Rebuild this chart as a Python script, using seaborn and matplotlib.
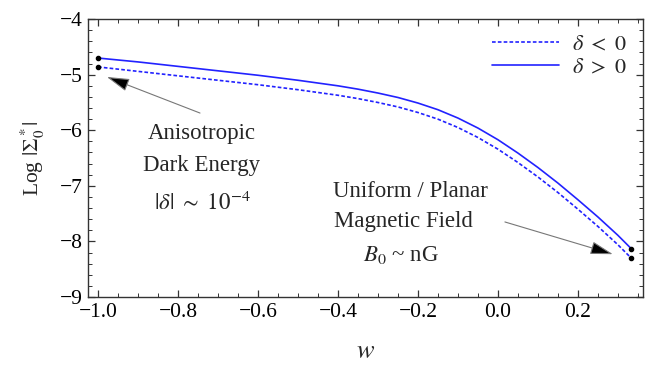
import matplotlib
matplotlib.use("Agg")
import matplotlib.pyplot as plt
import pandas as pd
import seaborn as sns
from matplotlib.lines import Line2D
from matplotlib.ticker import MultipleLocator

# values
w_vals = [-1.0, -0.95, -0.9, -0.85, -0.8, -0.75, -0.7, -0.65, -0.6, -0.55, -0.5, -0.45, -0.4, -0.35,
          -0.3, -0.25, -0.2, -0.15, -0.1, -0.05, 0.0, 0.05, 0.1, 0.15, 0.2, 0.25, 0.3, 1 / 3]
log_sigma_pos = [-4.70, -4.735, -4.77, -4.81, -4.85, -4.89, -4.93, -4.97, -5.01, -5.055, -5.10, -5.15, -5.20, -5.26,
                 -5.33, -5.41, -5.51, -5.63, -5.78, -5.96, -6.17, -6.41, -6.67, -6.95, -7.25, -7.56, -7.89, -8.13]
log_sigma_neg = [-4.86, -4.90, -4.94, -4.98, -5.02, -5.06, -5.10, -5.14, -5.18, -5.225, -5.27, -5.32, -5.37, -5.43,
                 -5.50, -5.58, -5.68, -5.80, -5.95, -6.13, -6.34, -6.58, -6.84, -7.12, -7.42, -7.73, -8.06, -8.30]
labels = [r"$\delta\ <\ 0$", r"$\delta\ >\ 0$"]
x_ticks = [-1.0, -0.8, -0.6, -0.4, -0.2, 0.0, 0.2]
x_ticklabels = ["\u22121.0", "\u22120.8", "\u22120.6", "\u22120.4", "\u22120.2", "0.0", "0.2"]

df = pd.concat(
    [
        pd.DataFrame({"w": w_vals, "logS": log_sigma_neg, "case": labels[0]}),
        pd.DataFrame({"w": w_vals, "logS": log_sigma_pos, "case": labels[1]}),
    ]
)

sns.set_style("ticks")
plt.rcParams["font.family"] = ["Liberation Serif", "DejaVu Serif"]
plt.rcParams["mathtext.fontset"] = "stix"

blue = "#2222ff"
fig = plt.figure(figsize=(6.54, 3.68), dpi=100)
ax = fig.add_axes([0.1346, 0.193, 0.8484, 0.755])

sns.lineplot(
    data=df, x="w", y="logS", hue="case", style="case",
    palette={labels[0]: blue, labels[1]: blue},
    dashes={labels[0]: (2.2, 1.3), labels[1]: ""},
    linewidth=1.2, ax=ax, legend=False,
)

# end points
end_w = [w_vals[0], w_vals[0], w_vals[-1], w_vals[-1]]
end_y = [log_sigma_pos[0], log_sigma_neg[0], log_sigma_pos[-1], log_sigma_neg[-1]]
ax.scatter(end_w, end_y, s=9, color="black", zorder=5)

handles = [
    Line2D([], [], color=blue, lw=1.2, dashes=(2.2, 1.3)),
    Line2D([], [], color=blue, lw=1.2),
]
ax.legend(handles, labels, loc="upper right", frameon=False, fontsize=16,
          handlelength=3.0, labelspacing=0.1, borderaxespad=0.3, handletextpad=0.6)

ax.set_xlim(-1.025, 0.3625)
ax.set_ylim(-9, -4)
ax.set_xticks(x_ticks)
ax.set_xticklabels(x_ticklabels)
ax.xaxis.set_minor_locator(MultipleLocator(0.05))
ax.yaxis.set_major_locator(MultipleLocator(1))
ax.yaxis.set_minor_locator(MultipleLocator(0.2))
ax.tick_params(which="both", direction="in", top=True, right=True, colors="#333333",
               labelcolor="black", labelsize=15.5)
ax.tick_params(which="major", length=5, width=0.9, pad=4)
ax.tick_params(which="minor", length=3, width=0.7)
for s in ax.spines.values():
    s.set_color("#333333")
    s.set_linewidth(1.0)

ax.set_xlabel(r"$w$", fontsize=19, labelpad=14)
ax.set_ylabel(r"Log $|\Sigma_0^*|$", fontsize=15.5)
ax.yaxis.set_label_coords(-0.074, 0.5)

# annotations
arrow = dict(arrowstyle="-|>,head_length=1.4,head_width=0.4", fc="black", ec="#777777",
             lw=0.8, mutation_scale=10, shrinkA=0, shrinkB=0)
ax.annotate("", xy=(-0.978, -5.04), xytext=(-0.745, -5.69), arrowprops=arrow)
ax.annotate("", xy=(0.2875, -8.23), xytext=(0.0175, -7.65), arrowprops=arrow)

ax.text(-0.74, -6.05, "Anisotropic", ha="center", va="center", fontsize=16.5)
ax.text(-0.74, -6.63, "Dark Energy", ha="center", va="center", fontsize=16.5)
ax.text(-0.74, -7.31, r"$|\delta|\ \sim\ 10^{-4}$", ha="center", va="center", fontsize=16.5)

ax.text(-0.22, -7.11, "Uniform / Planar", ha="center", va="center", fontsize=16.5)
ax.text(-0.2375, -7.65, "Magnetic Field", ha="center", va="center", fontsize=16.5)
ax.text(-0.2425, -8.24, r"$B_0$ ~ nG", ha="center", va="center", fontsize=16.5)

fig.savefig("out.png", dpi=100)
